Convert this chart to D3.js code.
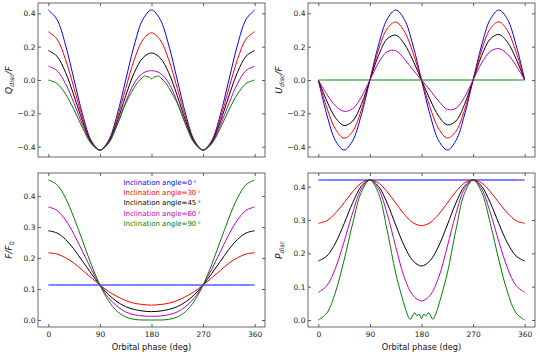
<!DOCTYPE html>
<html><head><meta charset="utf-8">
<script src="https://cdn.jsdelivr.net/npm/d3@7"></script>
<style>
body{margin:0;background:#fff}
svg{display:block}
text{font-family:"DejaVu Sans",sans-serif}
</style>
</head><body>
<svg id="chart" width="540" height="360"></svg>
<script>
// ---------------- data ----------------
const phase = [0,15,30,45,60,75,90,105,120,135,150,165,180,195,210,225,240,255,270,285,300,315,330,345,360];
const phaseG = [0,15,30,45,60,75,90,105,120,135,145,150,155,160,164,168,172,176,180,184,188,192,196,200,205,210,215,225,240,255,270,285,300,315,330,345,360];
const inclinations = [0,30,45,60,90];
const xTicks = [0,90,180,270,360];
const yTicksQU = [-0.4,-0.2,0.0,0.2,0.4];
const yTicksF = [0.0,0.1,0.2,0.3,0.4];
const yTicksP = [0.0,0.1,0.2,0.3,0.4];

const Q_i0  = [0.42,0.364,0.21,0,-0.21,-0.364,-0.42,-0.364,-0.21,0,0.21,0.364,0.42,0.364,0.21,0,-0.21,-0.364,-0.42,-0.364,-0.21,0,0.21,0.364,0.42];
const Q_i30 = [0.290,0.246,0.123,-0.050,-0.231,-0.369,-0.420,-0.369,-0.231,-0.050,0.122,0.241,0.283,0.241,0.122,-0.050,-0.231,-0.369,-0.420,-0.369,-0.231,-0.050,0.123,0.246,0.290];
const Q_i45 = [0.177,0.143,0.046,-0.096,-0.251,-0.373,-0.420,-0.373,-0.251,-0.095,0.044,0.133,0.162,0.133,0.044,-0.095,-0.251,-0.373,-0.420,-0.373,-0.251,-0.096,0.046,0.143,0.177];
const Q_i60 = [0.082,0.057,-0.022,-0.141,-0.273,-0.379,-0.420,-0.379,-0.270,-0.132,-0.018,0.041,0.056,0.041,-0.018,-0.132,-0.270,-0.379,-0.420,-0.379,-0.273,-0.141,-0.022,0.057,0.082];
const Q_i90 = [0,-0.021,-0.084,-0.180,-0.290,-0.383,-0.420,-0.380,-0.270,-0.140,-0.075,-0.045,-0.018,0.000,0.015,0.025,0.020,0.018,0.006,0.018,0.020,0.025,0.015,0.000,-0.018,-0.045,-0.075,-0.140,-0.270,-0.380,-0.420,-0.383,-0.290,-0.180,-0.084,-0.021,0];

const U_i0  = [0,-0.21,-0.364,-0.42,-0.364,-0.21,0,0.21,0.364,0.42,0.364,0.21,0,-0.21,-0.364,-0.42,-0.364,-0.21,0,0.21,0.364,0.42,0.364,0.21,0];
const U_i30 = [0,-0.168,-0.296,-0.349,-0.308,-0.181,0,0.181,0.308,0.348,0.293,0.165,0,-0.165,-0.293,-0.348,-0.308,-0.181,0,0.181,0.308,0.349,0.296,0.168,0];
const U_i45 = [0,-0.127,-0.227,-0.273,-0.246,-0.147,0,0.147,0.246,0.269,0.217,0.118,0,-0.118,-0.217,-0.269,-0.246,-0.147,0,0.147,0.246,0.273,0.227,0.127,0];
const U_i60 = [0,-0.086,-0.155,-0.188,-0.172,-0.103,0,0.103,0.170,0.176,0.127,0.061,0,-0.061,-0.127,-0.176,-0.170,-0.103,0,0.103,0.172,0.188,0.155,0.086,0];
const U_i90 = [0,0,0,0,0,0,0,0,0,0,0,0,0,0,0,0,0,0,0,0,0,0,0,0,0];

const F_i0  = [0.113,0.113,0.113,0.113,0.113,0.113,0.113,0.113,0.113,0.113,0.113,0.113,0.113,0.113,0.113,0.113,0.113,0.113,0.113,0.113,0.113,0.113,0.113,0.113,0.113];
const F_i30 = [0.217,0.213,0.201,0.183,0.160,0.136,0.113,0.092,0.076,0.063,0.054,0.050,0.048,0.050,0.054,0.063,0.076,0.092,0.113,0.136,0.160,0.183,0.201,0.213,0.217];
const F_i45 = [0.288,0.281,0.260,0.228,0.189,0.150,0.113,0.082,0.059,0.043,0.034,0.029,0.027,0.029,0.034,0.043,0.059,0.082,0.113,0.150,0.189,0.228,0.260,0.281,0.288];
const F_i60 = [0.365,0.354,0.323,0.276,0.220,0.164,0.113,0.072,0.044,0.026,0.017,0.013,0.012,0.013,0.017,0.026,0.044,0.072,0.113,0.164,0.220,0.276,0.323,0.354,0.365];
const F_i90 = [0.452,0.437,0.394,0.329,0.254,0.179,0.113,0.062,0.028,0.010,0.002,0.000,0.000,0.000,0.002,0.010,0.028,0.062,0.113,0.179,0.254,0.329,0.394,0.437,0.452];

const P_i0  = [0.42,0.42,0.42,0.42,0.42,0.42,0.42,0.42,0.42,0.42,0.42,0.42,0.42,0.42,0.42,0.42,0.42,0.42,0.42,0.42,0.42,0.42,0.42,0.42,0.42];
const P_i30 = [0.290,0.298,0.321,0.352,0.385,0.411,0.420,0.411,0.385,0.351,0.317,0.292,0.283,0.292,0.317,0.351,0.385,0.411,0.420,0.411,0.385,0.352,0.321,0.298,0.290];
const P_i45 = [0.177,0.192,0.231,0.289,0.352,0.401,0.420,0.401,0.351,0.285,0.222,0.178,0.162,0.178,0.222,0.285,0.351,0.401,0.420,0.401,0.352,0.289,0.231,0.192,0.177];
const P_i60 = [0.083,0.103,0.156,0.235,0.322,0.393,0.420,0.393,0.319,0.220,0.128,0.074,0.057,0.074,0.128,0.220,0.319,0.393,0.420,0.393,0.322,0.235,0.156,0.103,0.083];
const P_i90 = [0,0.021,0.084,0.180,0.290,0.383,0.420,0.380,0.270,0.140,0.075,0.045,0.018,0.002,0.012,0.022,0.012,0.018,0.004,0.018,0.012,0.022,0.012,0.002,0.018,0.045,0.075,0.140,0.270,0.380,0.420,0.383,0.290,0.180,0.084,0.021,0];

// ---------------- style ----------------
const colors = ["#0000ff","#ff0000","#000000","#bf00bf","#008000"];
const svg = d3.select("#chart");
const tickFont = 7.5;

const panels = [
  {x0:38, x1:265, y0:3, y1:157, dom:[-0.462,0.462], ticks:yTicksQU, fmt:".1f",
   series:[[phase,Q_i0],[phase,Q_i30],[phase,Q_i45],[phase,Q_i60],[phaseG,Q_i90]],
   label:[["Q",1,0],["disc",1,1],["/F",1,0]], lx:9, xlab:false},
  {x0:308, x1:535, y0:3, y1:157, dom:[-0.462,0.462], ticks:yTicksQU, fmt:".1f",
   series:[[phase,U_i0],[phase,U_i30],[phase,U_i45],[phase,U_i60],[phase,U_i90]],
   label:[["U",1,0],["disc",1,1],["/F",1,0]], lx:279, xlab:false},
  {x0:38, x1:265, y0:173, y1:327, dom:[-0.0226,0.4746], ticks:yTicksF, fmt:".1f",
   series:[[phase,F_i0],[phase,F_i30],[phase,F_i45],[phase,F_i60],[phase,F_i90]],
   label:[["F",1,0],["/F",1,0],["0",0,1]], lx:9, xlab:true, legend:true},
  {x0:308, x1:535, y0:173, y1:327, dom:[-0.021,0.441], ticks:yTicksP, fmt:".1f",
   series:[[phase,P_i0],[phase,P_i30],[phase,P_i45],[phase,P_i60],[phaseG,P_i90]],
   label:[["P",1,0],["disc",1,1]], lx:279, xlab:true}
];

panels.forEach(p => {
  const x = d3.scaleLinear().domain([-18,378]).range([p.x0,p.x1]);
  const y = d3.scaleLinear().domain(p.dom).range([p.y1,p.y0]);
  const g = svg.append("g");

  // clip
  const id = "clip" + p.x0 + "_" + p.y0;
  svg.append("clipPath").attr("id", id).append("rect")
    .attr("x", p.x0).attr("y", p.y0).attr("width", p.x1-p.x0).attr("height", p.y1-p.y0);

  const line = d3.line().curve(d3.curveCatmullRom.alpha(0.5)).x(d=>x(d[0])).y(d=>y(d[1]));
  const lg = g.append("g").attr("clip-path", "url(#" + id + ")");
  p.series.forEach((s,i) => {
    const pts = s[0].map((ph,k)=>[ph, s[1][k]]);
    lg.append("path").attr("d", line(pts)).attr("fill","none")
      .attr("stroke", colors[i]).attr("stroke-width", 1.0);
  });

  // axes
  const fmt = d3.format(p.fmt);
  const axL = d3.axisLeft(y).tickValues(p.ticks).tickSize(-3).tickPadding(2.5).tickFormat(fmt);
  const axR = d3.axisRight(y).tickValues(p.ticks).tickSize(-3).tickFormat("");
  const axB = d3.axisBottom(x).tickValues(xTicks).tickSize(-3).tickPadding(5).tickFormat(p.xlab ? d3.format("d") : "");
  const axT = d3.axisTop(x).tickValues(xTicks).tickSize(-3).tickFormat("");
  [[axL,`translate(${p.x0},0)`],[axR,`translate(${p.x1},0)`],[axB,`translate(0,${p.y1})`],[axT,`translate(0,${p.y0})`]]
  .forEach(([ax,tr]) => {
    const a = g.append("g").attr("transform", tr).call(ax);
    a.select(".domain").remove();
    a.selectAll("line").attr("stroke","#333").attr("stroke-width",0.8);
    a.selectAll("text").attr("font-family","DejaVu Sans, sans-serif").attr("font-size",tickFont).attr("fill","#222");
  });
  g.append("rect").attr("x",p.x0).attr("y",p.y0).attr("width",p.x1-p.x0).attr("height",p.y1-p.y0)
    .attr("fill","none").attr("stroke","#444").attr("stroke-width",0.8);

  // y label
  const cy = (p.y0+p.y1)/2;
  const t = g.append("text").attr("transform", `translate(${p.lx},${cy}) rotate(-90)`)
    .attr("text-anchor","middle").attr("font-size",9).attr("fill","#111").attr("dy","0.35em");
  let sub = false;
  p.label.forEach(([txt,it,sb]) => {
    const ts = t.append("tspan").text(txt).attr("font-style", it ? "italic" : "normal");
    if (sb) { ts.attr("font-size",6.3).attr("dy", sub ? 0 : 2); sub = true; }
    else if (sub) { ts.attr("dy",-2); sub = false; }
  });

  if (p.xlab) {
    g.append("text").attr("x",(p.x0+p.x1)/2).attr("y",350).attr("text-anchor","middle")
      .attr("font-size",8.2).attr("fill","#111").text("Orbital phase (deg)");
  }

  if (p.legend) {
    inclinations.forEach((inc,i) => {
      const lt = g.append("text").attr("x",123.5).attr("y",182.5 + i*10.2).attr("dy","0.35em")
        .attr("font-size",7).attr("fill",colors[i]);
      lt.append("tspan").text("Inclination angle=" + inc);
      lt.append("tspan").text("°").attr("dx",1.5).attr("font-size",6);
    });
  }
});
</script>
</body></html>
